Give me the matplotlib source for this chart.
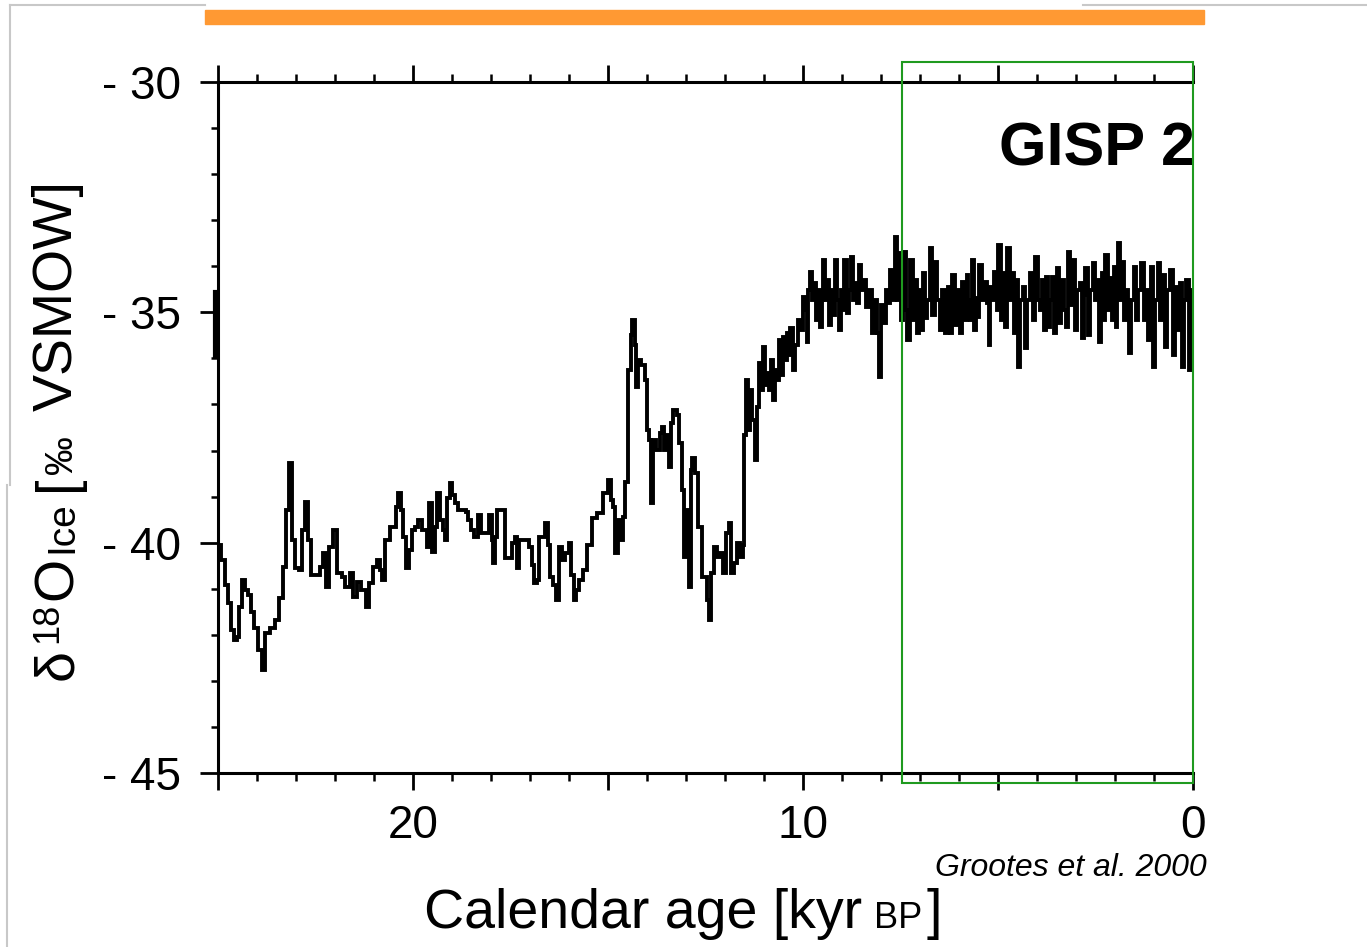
import matplotlib
matplotlib.use("Agg")
import matplotlib.pyplot as plt
from matplotlib.patches import Rectangle
from matplotlib.lines import Line2D
from matplotlib.ticker import MultipleLocator, FuncFormatter

NARROW = ['Liberation Sans Narrow', 'Liberation Sans', 'DejaVu Sans']

# GISP2 oxygen isotope record, 25 - 11.6 kyr BP
age_glacial = [25.00, 24.92, 24.82, 24.74, 24.67, 24.59, 24.51, 24.46, 24.38, 24.31,
               24.23, 24.15, 24.08, 23.97, 23.87, 23.79, 23.67, 23.54, 23.44, 23.33,
               23.26, 23.18, 23.10, 23.03, 22.92, 22.85, 22.77, 22.69, 22.62, 22.44,
               22.38, 22.31, 22.23, 22.15, 22.05, 21.95, 21.82, 21.74, 21.62, 21.54,
               21.44, 21.33, 21.21, 21.13, 21.03, 20.92, 20.85,
               20.79, 20.72, 20.59, 20.51, 20.44, 20.38, 20.31, 20.26, 20.18, 20.10,
               20.03, 19.95, 19.87, 19.77, 19.64, 19.59, 19.51, 19.44, 19.38, 19.31,
               19.23, 19.18, 19.13, 19.05, 19.00, 18.92, 18.85, 18.72, 18.64, 18.59,
               18.51, 18.44, 18.33, 18.26, 18.10, 18.05, 17.97, 17.95, 17.90, 17.85,
               17.69, 17.64, 17.56, 17.46, 17.38, 17.33, 17.28, 17.13, 17.03, 16.95,
               16.90, 16.82, 16.77, 16.67, 16.62,
               16.54, 16.49, 16.41, 16.33, 16.26, 16.18, 16.10, 16.00, 15.95, 15.87,
               15.82, 15.74, 15.64, 15.54, 15.41, 15.28, 15.13, 15.00, 14.92, 14.87,
               14.82, 14.74, 14.69, 14.62, 14.56, 14.49, 14.41, 14.38, 14.31, 14.28,
               14.23, 14.15, 14.05, 14.00, 13.95, 13.90, 13.85, 13.77, 13.67, 13.62,
               13.56, 13.49, 13.44, 13.38, 13.33, 13.23, 13.18, 13.10, 13.05, 12.97,
               12.92, 12.87, 12.85, 12.77, 12.69, 12.59, 12.46, 12.41,
               12.36, 12.28, 12.21, 12.13, 12.05, 11.97, 11.90, 11.85, 11.77, 11.69,
               11.62]
d18o_glacial = [-40.05, -40.38, -40.92, -41.31, -41.90, -42.11, -42.05, -41.40, -40.81, -41.03,
                -41.14, -41.50, -41.85, -42.33, -42.76, -41.96, -41.85, -41.68, -41.20, -40.53,
                -39.29, -38.27, -39.94, -40.55, -40.59, -39.72, -39.12, -39.94, -40.70, -40.70,
                -40.53, -40.22, -40.96, -40.09, -39.72, -40.66, -40.74, -40.96, -40.66, -41.18,
                -40.85, -41.03, -41.40, -40.87, -40.53, -40.38, -40.59,
                -40.81, -39.94, -39.66, -39.66, -39.23, -38.92, -39.29, -39.88, -40.55, -40.16,
                -39.72, -39.66, -39.51, -39.72, -40.09, -39.14, -40.20, -39.66, -38.92, -39.51,
                -39.72, -39.94, -39.03, -38.70, -38.96, -39.14, -39.29, -39.29, -39.33, -39.51,
                -39.72, -39.88, -39.40, -39.79, -39.79, -39.40, -39.94, -40.44, -39.88, -39.29,
                -39.29, -40.33, -40.33, -40.01, -39.88, -40.55, -39.94, -39.94, -40.09, -40.48,
                -40.87, -40.81, -39.88, -39.88, -39.57,
                -40.05, -40.74, -40.92, -41.24, -40.09, -40.38, -40.22, -40.01, -40.70, -41.24,
                -41.03, -40.81, -40.59, -40.05, -39.46, -39.36, -38.92, -38.64, -39.07, -39.23,
                -40.22, -39.51, -39.94, -39.44, -38.68, -36.25, -35.49, -35.17, -35.71, -36.62,
                -36.03, -36.14, -36.47, -37.55, -37.77, -39.14, -37.77, -37.99, -37.62, -37.49,
                -37.99, -37.66, -38.36, -37.40, -37.12, -37.23, -37.84, -38.86, -40.31, -39.29,
                -40.96, -38.42, -38.16, -38.49, -39.66, -40.74, -41.24, -41.68,
                -40.66, -40.09, -40.31, -40.22, -40.66, -39.79, -39.57, -40.66, -40.44, -40.01,
                -40.31]

# 11.5 kyr BP to present
age_holocene = [11.54, 11.51, 11.46, 11.41, 11.36, 11.31, 11.23, 11.18, 11.13, 11.08,
                11.03, 10.97, 10.92, 10.87, 10.82, 10.77, 10.72, 10.67, 10.62, 10.56,
                10.51, 10.46, 10.41, 10.36, 10.33, 10.26, 10.21, 10.13, 10.08, 10.00,
                9.95, 9.90, 9.87, 9.82, 9.77, 9.72, 9.67, 9.62, 9.56, 9.51,
                9.49, 9.44, 9.38, 9.33, 9.28, 9.23, 9.18, 9.13, 9.08, 9.03,
                8.97, 8.95, 8.87, 8.82, 8.77, 8.72, 8.67, 8.62, 8.56, 8.51,
                8.46, 8.38, 8.31, 8.23, 8.15, 8.10, 8.05, 7.99, 7.95, 7.87,
                7.82, 7.77, 7.69, 7.64, 7.59, 7.54, 7.49, 7.44, 7.41, 7.36,
                7.33, 7.26, 7.18, 7.13, 7.08, 7.03, 6.97, 6.92, 6.87, 6.82,
                6.74, 6.69, 6.62, 6.56, 6.49, 6.44, 6.36, 6.28, 6.23, 6.18,
                6.10, 6.05, 5.97, 5.92, 5.85, 5.79, 5.77, 5.72, 5.67, 5.62,
                5.56, 5.51, 5.49, 5.41, 5.33, 5.28, 5.23, 5.21, 5.13, 5.10,
                5.03, 5.00, 4.92, 4.87, 4.82, 4.77, 4.69, 4.64, 4.59, 4.51,
                4.49, 4.44, 4.36, 4.31, 4.26, 4.18, 4.10, 4.05, 3.97, 3.92,
                3.87, 3.82, 3.77, 3.72, 3.67, 3.62, 3.56, 3.51, 3.49, 3.44,
                3.38, 3.31, 3.26, 3.21, 3.15, 3.08, 3.03, 2.97, 2.90, 2.85,
                2.79, 2.77, 2.69, 2.64, 2.56, 2.51, 2.46, 2.41, 2.36, 2.33,
                2.28, 2.26, 2.18, 2.13, 2.08, 2.03, 1.97, 1.95, 1.92, 1.87,
                1.82, 1.77, 1.72, 1.67, 1.64, 1.59, 1.51, 1.46, 1.41, 1.33,
                1.26, 1.21, 1.15, 1.08, 1.03, 0.97, 0.90, 0.85, 0.77, 0.72,
                0.67, 0.59, 0.51, 0.46, 0.41, 0.33, 0.28, 0.23, 0.18, 0.10,
                0.05, 0.00]
d18o_holocene = [-40.05, -37.66, -36.47, -37.55, -36.69, -37.34, -38.20, -37.05, -36.10, -36.69,
                 -35.75, -36.58, -36.32, -36.69, -36.03, -36.90, -36.25, -36.47, -35.60, -36.36,
                 -35.54, -36.03, -35.45, -35.93, -35.34, -36.25, -35.71, -35.17, -35.38, -34.67,
                 -34.95, -35.64, -34.51, -34.12, -34.73, -34.36, -35.17, -34.51, -35.32, -34.73,
                 -33.86, -34.73, -34.30, -35.27, -34.51, -35.06, -33.86, -34.73, -35.38, -34.51,
                 -34.95, -33.86, -35.01, -34.51, -33.80, -34.73, -34.36, -34.80, -33.97, -34.51,
                 -34.30, -34.88, -34.51, -35.45, -34.73, -35.45, -36.40, -34.84, -35.23, -34.51,
                 -34.80, -34.08, -34.73, -33.36, -34.73, -33.71, -35.17, -34.30, -33.69, -34.95,
                 -35.60, -33.86, -35.17, -34.30, -35.45, -34.51, -35.38, -34.15, -35.12, -34.73,
                 -33.60, -35.06, -33.91, -34.73, -35.38, -34.51, -35.45, -34.45, -35.45, -34.19,
                 -35.27, -34.51, -35.45, -34.34, -35.17, -34.19, -34.73, -35.17, -33.86, -35.38,
                 -34.69, -35.10, -33.97, -34.73, -34.34, -34.80, -35.71, -34.45, -34.73, -34.12,
                 -34.95, -33.54, -35.17, -34.15, -35.32, -33.60, -34.73, -34.15, -35.45, -34.30,
                 -36.19, -34.73, -34.45, -35.77, -34.73, -34.15, -35.17, -33.80, -34.73, -34.95,
                 -34.30, -35.38, -34.23, -35.32, -34.73, -34.23, -35.45, -34.73, -34.04, -35.23,
                 -34.30, -34.95, -35.32, -33.69, -34.84, -33.86, -35.38, -34.51, -34.36, -35.56,
                 -34.62, -34.04, -35.49, -34.51, -33.93, -34.73, -34.30, -35.64, -34.51, -34.15,
                 -35.17, -33.76, -34.95, -34.25, -35.17, -34.02, -35.32, -34.51, -33.49, -34.73,
                 -33.91, -35.17, -34.51, -34.73, -35.88, -34.73, -34.02, -35.17, -34.51, -33.93,
                 -35.17, -34.51, -35.60, -34.02, -36.19, -34.73, -33.93, -35.17, -34.19, -35.75,
                 -34.51, -34.08, -35.93, -34.46, -35.38, -34.36, -36.19, -34.73, -34.30, -36.25,
                 -34.51, -35.71]

# short piece of record just beyond 25 kyr
edge_age = [25.07, 25.07]
edge_d18o = [-34.55, -35.95]

# highlighted interval
box_age = (7.46, 0.0)
box_d18o = (-45.22, -29.57)

age = age_glacial + age_holocene
d18o = d18o_glacial + d18o_holocene

W, H = 1367, 947
fig = plt.figure(figsize=(W / 100, H / 100), dpi=100)
fig.patch.set_facecolor('white')
ax = fig.add_axes([218 / W, 1 - 773 / H, 975 / W, 691 / H])

ax.plot(age, d18o, color='black', lw=2.8, drawstyle='steps-post', solid_joinstyle='miter')
ax.plot(edge_age, edge_d18o, color='black', lw=3.0, clip_on=False)

ax.set_xlim(25, 0)
ax.set_ylim(-45, -30)

for side in ['left', 'bottom', 'top']:
    ax.spines[side].set_linewidth(2.2)
ax.spines['right'].set_visible(False)

ax.xaxis.set_major_locator(MultipleLocator(5))
ax.xaxis.set_minor_locator(MultipleLocator(1))
ax.yaxis.set_major_locator(MultipleLocator(5))
ax.yaxis.set_minor_locator(MultipleLocator(1))
# only every other major x tick carries a label
ax.xaxis.set_major_formatter(FuncFormatter(lambda v, p: '%d' % round(v) if round(v) % 10 == 0 else ''))
ax.yaxis.set_major_formatter(FuncFormatter(lambda v, p: '- %d' % abs(round(v))))

ax.tick_params(axis='x', which='major', direction='out', top=True, bottom=True,
               length=12, width=2.0, pad=10, labelsize=33)
ax.tick_params(axis='x', which='minor', direction='out', top=True, bottom=True,
               length=6, width=1.8)
ax.tick_params(axis='y', which='major', direction='out', left=True, right=False,
               length=13, width=2.0, pad=14, labelsize=33)
ax.tick_params(axis='y', which='minor', direction='out', left=True, right=False,
               length=5, width=1.8)
for lab in ax.get_xticklabels() + ax.get_yticklabels():
    lab.set_family(NARROW)

ax.add_patch(Rectangle((box_age[0], box_d18o[0]), box_age[1] - box_age[0],
                       box_d18o[1] - box_d18o[0], fill=False, ec='#1f9a1f',
                       lw=1.5, clip_on=False, zorder=5))

ax.text(1.002, 0.9016, 'GISP 2', transform=ax.transAxes, ha='right', va='center',
        fontsize=44, fontweight='bold', family=['Liberation Sans', 'DejaVu Sans'])

fig.text(1207 / W, 1 - 876 / H, 'Grootes et al. 2000', ha='right', va='baseline',
         fontsize=23, style='italic', family=NARROW)

# orange bar and grey frame pieces
fig.patches.append(Rectangle((205 / W, 1 - 24 / H), 999 / W, 14 / H,
                             transform=fig.transFigure, color='#ff9933', zorder=0))
for xs, ys in [((10, 205), (5, 5)), ((10, 10), (5, 485)), ((7, 7), (485, 947)),
               ((1083, 1367), (5, 5))]:
    fig.lines.append(Line2D([x / W for x in xs], [1 - y / H for y in ys],
                            transform=fig.transFigure, color='#c8c8c8', lw=1.5))


def text_run(pieces, along, across, vertical):
    """Lay out text pieces of mixed sizes one after another, centred on `along`."""
    fig.canvas.draw()
    rend = fig.canvas.get_renderer()
    items = []
    for s, size, shift, gap in pieces:
        t = fig.text(0, 0, s, fontsize=size, family=NARROW, rotation=90 if vertical else 0,
                     rotation_mode='anchor', ha='left', va='baseline')
        bb = t.get_window_extent(rend)
        items.append((t, bb.height if vertical else bb.width, shift, gap))
    total = sum(n for _, n, _, _ in items) + sum(g for _, _, _, g in items[:-1])
    pos = along - total / 2
    for t, n, shift, gap in items:
        if vertical:
            t.set_position(((across - shift) / W, pos / H))
        else:
            t.set_position((pos / W, (H - across + shift) / H))
        pos += n + gap


# x label, "BP" in small capitals
text_run([('Calendar age [kyr', 40, 0, 12), ('BP', 26, 0, 5), (']', 40, 0, 0)],
         683, 928, vertical=False)

# y label, reading bottom to top
text_run([('δ', 40, 0, 6), ('18', 26, 15, 3), ('O', 40, 0, 4), ('Ice', 28, 0, 10),
          ('[', 40, 0, 2), ('‰', 28, 0, 24), ('VSMOW]', 40, 0, 0)],
         H - 430, 72, vertical=True)

fig.savefig('out.png', dpi=100)
